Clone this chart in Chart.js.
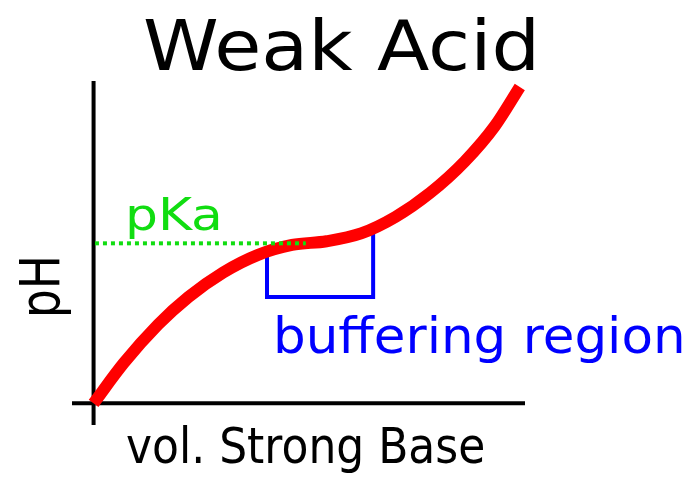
<!DOCTYPE html>
<html>
<head>
<meta charset="utf-8">
<title>Weak Acid</title>
<script src="https://cdn.jsdelivr.net/npm/chart.js@4"></script>
<style>
  html, body { margin: 0; padding: 0; background: #fff; }
  canvas { display: block; }
</style>
</head>
<body>
<canvas id="titration" width="697" height="489"></canvas>
<script>
// titration curve (volume in mL, pH)
const volume = [0, 3.5, 7.5, 11, 15, 19, 23, 27, 31, 35, 39, 43, 46.5, 49.4];
const pHValues = [0, 1.75, 3.43, 4.62, 5.68, 6.44, 6.88, 7.04, 7.38, 8.1, 9.14, 10.5, 12.04, 13.74];

// pKa guide line
const pKa = 6.95;
const pKaFrom = 0.16;
const pKaTo = 24.6;

// buffering region bracket (open top box)
const bufferX = [20.1, 20.1, 32.4, 32.4];
const bufferY = [6.5, 4.62, 4.62, 7.5];

// axis extents
const xRange = [-2.5, 50];
const yRange = [-0.94, 14];

const curvePoints = volume.map((v, i) => ({ x: v, y: pHValues[i] }));
const bracketPoints = bufferX.map((v, i) => ({ x: v, y: bufferY[i] }));

// text labels drawn on top, squeezed/stretched like the original drawing
const labelsPlugin = {
  id: "labels",
  afterDraw(chart) {
    const ctx = chart.ctx;
    const put = (text, x, y, size, color, sx, rotate) => {
      ctx.save();
      ctx.font = size + "px 'DejaVu Sans'";
      ctx.fillStyle = color;
      ctx.textBaseline = "alphabetic";
      ctx.translate(x, y);
      if (rotate) {
        ctx.rotate(-Math.PI / 2);
        ctx.textAlign = "center";
      } else {
        ctx.textAlign = "left";
      }
      ctx.scale(sx, 1);
      ctx.fillText(text, 0, 0);
      ctx.restore();
    };
    put("Weak Acid", 143, 70, 69, "#000", 1.11, false);
    put("pKa", 125, 230, 44, "#11dd11", 1.18, false);
    put("buffering region", 273, 353, 50, "#0000ff", 1.03, false);
    put("vol. Strong Base", 126, 463, 50, "#000", 0.88, false);
    put("pH", 59, 286.5, 56, "#000", 0.81, true);
  },
};

new Chart(document.getElementById("titration"), {
  type: "line",
  data: {
    datasets: [
      {
        label: "pKa",
        data: [{ x: pKaFrom, y: pKa }, { x: pKaTo, y: pKa }],
        borderColor: "#11dd11",
        borderWidth: 4,
        borderDash: [4, 4],
        borderCapStyle: "butt",
        pointRadius: 0,
        clip: false,
        order: 0,
      },
      {
        label: "pH",
        data: curvePoints,
        borderColor: "#ff0000",
        borderWidth: 12,
        borderCapStyle: "butt",
        cubicInterpolationMode: "monotone",
        pointRadius: 0,
        clip: false,
        order: 1,
      },
      {
        label: "buffering region",
        data: bracketPoints,
        borderColor: "#0000ff",
        borderWidth: 4,
        borderJoinStyle: "miter",
        borderCapStyle: "butt",
        tension: 0,
        pointRadius: 0,
        clip: false,
        order: 2,
      },
      {
        label: "x axis",
        data: [{ x: xRange[0], y: 0 }, { x: xRange[1], y: 0 }],
        borderColor: "#000",
        borderWidth: 4,
        borderCapStyle: "butt",
        pointRadius: 0,
        clip: false,
        order: 3,
      },
      {
        label: "y axis",
        data: [{ x: 0, y: yRange[0] }, { x: 0, y: yRange[1] }],
        borderColor: "#000",
        borderWidth: 4,
        borderCapStyle: "butt",
        pointRadius: 0,
        clip: false,
        order: 3,
      },
    ],
  },
  options: {
    responsive: false,
    animation: false,
    events: [],
    layout: {
      padding: { left: 72, right: 172, top: 81, bottom: 64 },
    },
    scales: {
      x: { type: "linear", min: xRange[0], max: xRange[1], display: false },
      y: { type: "linear", min: yRange[0], max: yRange[1], display: false },
    },
    plugins: {
      legend: { display: false },
      title: { display: false },
      tooltip: { enabled: false },
    },
  },
  plugins: [labelsPlugin],
});
</script>
</body>
</html>
